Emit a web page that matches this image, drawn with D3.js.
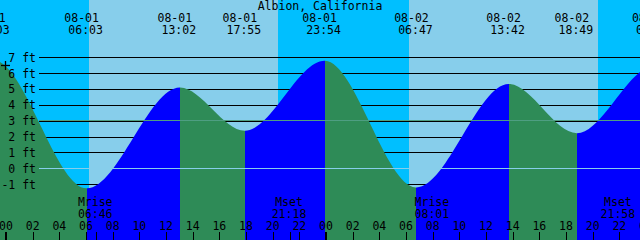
<!DOCTYPE html>
<html><head><meta charset="utf-8">
<script src="https://cdn.jsdelivr.net/npm/d3@7"></script>
<style>html,body{margin:0;padding:0;background:#00BFFF;overflow:hidden}svg{display:block}</style>
</head><body><svg id="c" width="640" height="240"></svg>
<script>
// ---- data ----
const title = "Albion, California";
const tideTimes   = ["07-31 17:05","07-31 23:03","08-01 06:03","08-01 13:02","08-01 17:55","08-01 23:54","08-02 06:47","08-02 13:42","08-02 18:49","08-03 00:37","08-03 07:45"];
const tideHeights = [2.55, 6.85, -1.23, 5.13, 2.40, 6.81, -1.17, 5.34, 2.24, 6.47, -1.10];
const sunriseTimes = ["08-01 06:13","08-02 06:13"];
const sunsetTimes  = ["08-01 20:24","08-02 20:24"];
const moonriseTimes = ["08-01 06:46","08-02 08:01"];
const moonsetTimes  = ["08-01 21:18","08-02 21:58"];
const footTicks = [-1,0,1,2,3,4,5,6,7];
const hourTicks = [0,2,4,6,8,10,12,14,16,18,20,22,24,26,28,30,32,34,36,38,40,42,44,46,48];
const hourTickLabels = ["00","02","04","06","08","10","12","14","16","18","20","22","00","02","04","06","08","10","12","14","16","18","20","22","00"];
const datumLevel = 0;
const mslLevel = 3.03;
const windowHours = [-0.45, 47.55];

// ---- helpers ----
const base = Date.UTC(2000,7,1,0,0);
function hrs(s){ const [md,hm]=s.split(" "); const [M,D]=md.split("-").map(Number); const [H,Mi]=hm.split(":").map(Number);
  return (Date.UTC(2000,M-1,D,H,Mi)-base)/3600000; }

const W=640,H=240;
const FONT='"DejaVu Sans Mono", monospace';
const FS='11.5px';
const x = d3.scaleLinear().domain(windowHours).range([0,W]);
const y = d3.scaleLinear().domain([-1,7]).range([184.7,57.7]);
const svg = d3.select("#c");
const COL = {night:"#00BFFF", day:"#87CEEB", rise:"#0000FF", fall:"#2E8B57", datum:"#87CEEB", msl:"#4E9E82"};

// sky
svg.append("rect").attr("x",0).attr("y",0).attr("width",W).attr("height",H).attr("fill",COL.night);
sunriseTimes.forEach((s,i)=>{
  const a=x(hrs(s)), b=x(hrs(sunsetTimes[i]));
  svg.append("rect").attr("x",Math.round(a)).attr("y",0).attr("width",Math.round(b)-Math.round(a)).attr("height",H).attr("fill",COL.day);
});

// black foot lines (behind water)
svg.append("g").selectAll("line").data(footTicks).join("line")
  .attr("x1",39).attr("x2",W).attr("y1",d=>Math.floor(y(d))+0.5).attr("y2",d=>Math.floor(y(d))+0.5)
  .attr("stroke","#000").attr("stroke-width",1).attr("shape-rendering","crispEdges");

// water
const pts = tideTimes.map((t,i)=>({t:hrs(t),h:tideHeights[i]}));
const area = d3.area().x(d=>x(d.t)).y0(H).y1(d=>y(d.h)).curve(d3.curveMonotoneX);
const defs = svg.append("defs");
for(let i=0;i<pts.length-1;i++){
  const a=x(pts[i].t), b=x(pts[i+1].t);
  const id="seg"+i;
  defs.append("clipPath").attr("id",id).append("rect")
    .attr("x",Math.round(a)).attr("y",0).attr("width",Math.round(b)-Math.round(a)).attr("height",H);
  svg.append("path").attr("d",area(pts)).attr("clip-path",`url(#${id})`)
    .attr("fill", pts[i+1].h>pts[i].h?COL.rise:COL.fall);
}

// datum & msl lines
[[datumLevel,COL.datum],[mslLevel,COL.msl]].forEach(([v,c])=>{
  const yy=Math.floor(y(v))+0.5;
  svg.append("line").attr("x1",39).attr("x2",W).attr("y1",yy).attr("y2",yy)
    .attr("stroke",c).attr("stroke-width",1).attr("shape-rendering","crispEdges");
});

// y labels
svg.append("g").selectAll("text").data(footTicks).join("text")
  .attr("x",36).attr("y",d=>y(d)+4).attr("text-anchor","end")
  .style("font-family",FONT).style("font-size",FS).attr("fill","#000")
  .text(d=>d+" ft");

// + marker
svg.append("line").attr("x1",1).attr("x2",10).attr("y1",65.5).attr("y2",65.5).attr("stroke","#000").attr("stroke-width",1.3);
svg.append("line").attr("x1",5.5).attr("x2",5.5).attr("y1",61).attr("y2",70).attr("stroke","#000").attr("stroke-width",1.3);

// title
svg.append("text").attr("x",320).attr("y",10).attr("text-anchor","middle")
  .style("font-family",FONT).style("font-size",FS).text(title);

// tide event labels
const evG = svg.append("g").style("font-family",FONT).style("font-size",FS).attr("text-anchor","middle");
tideTimes.forEach(s=>{
  const xx=x(hrs(s)); const [md,hm]=s.split(" ");
  evG.append("text").attr("x",xx-5).attr("y",21.5).text(md);
  evG.append("text").attr("x",xx-1).attr("y",33.5).text(hm);
});

// moon labels
const mG = svg.append("g").style("font-family",FONT).style("font-size",FS).attr("text-anchor","middle");
function moon(list,name){
  list.forEach(s=>{
    const xx=x(hrs(s)); const hm=s.split(" ")[1];
    mG.append("text").attr("x",xx-1).attr("y",206).text(name);
    mG.append("text").attr("x",xx-1).attr("y",217.5).text(hm);
    svg.append("line").attr("x1",Math.round(xx)+0.5).attr("x2",Math.round(xx)+0.5).attr("y1",232).attr("y2",240)
      .attr("stroke","#000").attr("shape-rendering","crispEdges");
  });
}
moon(moonriseTimes,"Mrise"); moon(moonsetTimes,"Mset");

// time axis
const axG = svg.append("g");
hourTicks.forEach((h,i)=>{
  const xx=x(h); const mid = h%24===0;
  axG.append("line").attr("x1",Math.round(xx)+0.5-(mid?0.5:0)).attr("x2",Math.round(xx)+0.5-(mid?0.5:0))
    .attr("y1",232).attr("y2",240).attr("stroke","#000").attr("stroke-width",mid?2:1).attr("shape-rendering","crispEdges");
  axG.append("text").attr("x",xx).attr("y",229.5).attr("text-anchor","middle")
    .style("font-family",FONT).style("font-size",FS).text(hourTickLabels[i]);
});
</script></body></html>
